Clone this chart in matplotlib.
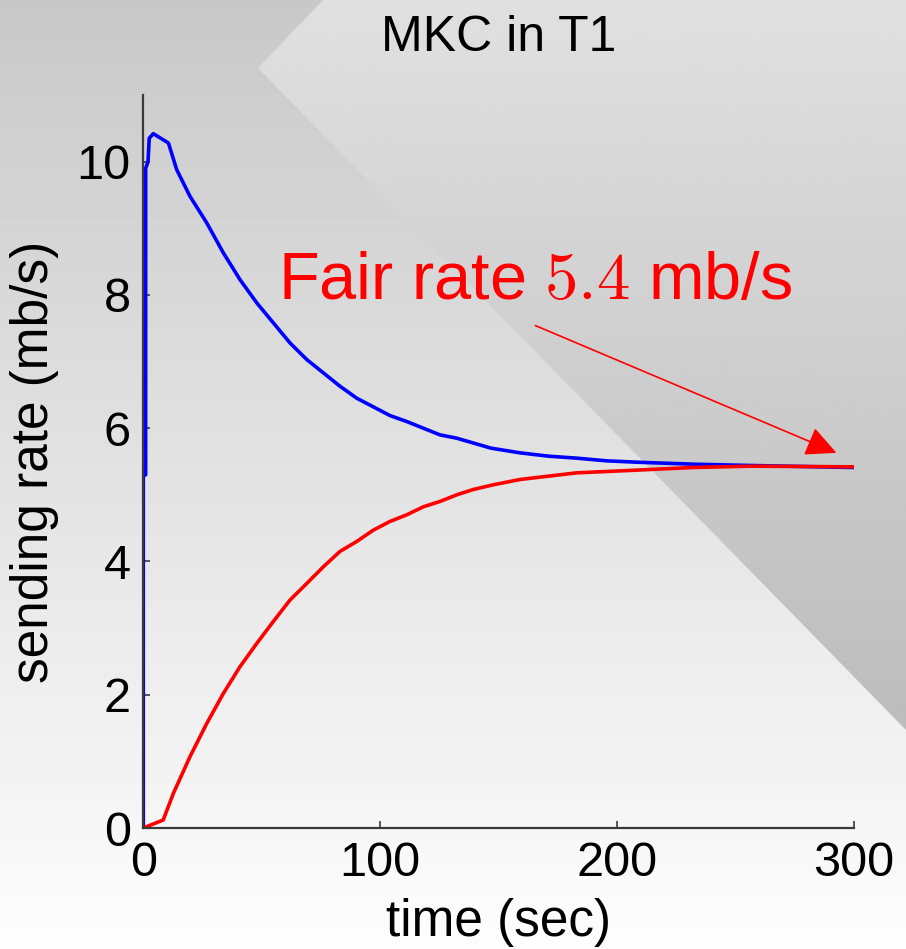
import numpy as np
import matplotlib.pyplot as plt
from matplotlib.patches import Polygon

plt.rcParams['font.family'] = ['Liberation Sans', 'DejaVu Sans']
plt.rcParams['mathtext.fontset'] = 'cm'

# sending rate of the two flows (mb/s) against time (sec)
t_blue = [0, 0, 1, 1, 2, 2.5, 4.2, 10.6, 14.1, 19.7, 26.8, 33.8, 40.8, 47.9, 54.9,
          61.9, 69.0, 76.0, 83.0, 90.1, 97.1, 104.1, 111.2, 118.2, 125.2, 132.3,
          146.8, 159, 171, 183, 195.6, 208, 232, 256.6, 300]
r_blue = [0, 5.3, 5.3, 9.9, 10.0, 10.35, 10.42, 10.28, 9.88, 9.48, 9.08, 8.63, 8.23,
          7.88, 7.58, 7.28, 7.03, 6.83, 6.63, 6.45, 6.32, 6.19, 6.10, 6.00, 5.90,
          5.85, 5.70, 5.63, 5.58, 5.55, 5.51, 5.49, 5.46, 5.44, 5.41]

t_red = [0, 8.4, 12.7, 19.7, 26.8, 33.8, 40.8, 47.9, 54.9, 61.9, 69.0, 76.0, 83.0,
         90.1, 97.1, 104.1, 111.2, 118.2, 125.2, 132.3, 139.3, 147.7, 159, 171,
         183, 208, 232, 256.6, 300]
r_red = [0, 0.12, 0.52, 1.07, 1.57, 2.02, 2.42, 2.77, 3.10, 3.42, 3.67, 3.92, 4.15,
         4.30, 4.47, 4.60, 4.70, 4.82, 4.90, 5.00, 5.08, 5.15, 5.23, 5.28, 5.33,
         5.37, 5.41, 5.43, 5.42]

fair_rate = 5.4
x_ticks = [0, 100, 200, 300]
y_ticks = [0, 2, 4, 6, 8, 10]

W, H = 906, 949
fig = plt.figure(figsize=(W / 100, H / 100), dpi=100)

# slide-style background: vertical grey fade plus a darker diagonal panel
bg = fig.add_axes([0, 0, 1, 1])
bg.axis('off')
fade = np.linspace(200, 253, 256)[:, None] / 255.0
bg.imshow(np.repeat(fade, 2, axis=1), cmap='gray', vmin=0, vmax=1,
          extent=[0, W, H, 0], aspect='auto')
panel = Polygon([(323, 0), (W, 0), (W, 730), (258, 68)], closed=True,
                facecolor='none', edgecolor='none')
bg.add_patch(panel)
shade = np.linspace(224, 188, 256)[:, None] / 255.0
img = bg.imshow(np.repeat(shade, 2, axis=1), cmap='gray', vmin=0, vmax=1,
                extent=[0, W, 730, 0], aspect='auto')
img.set_clip_path(panel)
bg.set_xlim(0, W)
bg.set_ylim(H, 0)

ax = fig.add_axes([143.3 / W, 1 - 828 / H, 710.7 / W, 733 / H])
ax.patch.set_alpha(0)

ax.plot(t_blue, r_blue, color='#0000ff', lw=2.6)
ax.plot(t_red, r_red, color='#ff0000', lw=2.6)

ax.set_xlim(0, 300)
ax.set_ylim(0, 11)
ax.set_xticks(x_ticks)
ax.set_yticks(y_ticks)
for side in ['top', 'right']:
    ax.spines[side].set_visible(False)
for side in ['left', 'bottom']:
    ax.spines[side].set_color('#3a3a3a')
    ax.spines[side].set_linewidth(1.6)
ax.tick_params(direction='in', length=5, width=1.2, color='#3a3a3a',
               labelsize=35, pad=9)

ax.set_xlabel('time (sec)', fontsize=37, labelpad=9)
ax.set_ylabel('sending rate (mb/s)', fontsize=37, labelpad=13)
ax.set_title('MKC in T1', fontsize=36, pad=32)

ax.text(56.9, 7.94, 'Fair rate $%.1f$ mb/s' % fair_rate, color='#ff0000',
        fontsize=48, ha='left', va='baseline')
ax.annotate('', xy=(292.6, 5.63), xytext=(165.5, 7.54),
            arrowprops=dict(arrowstyle='-|>,head_length=0.95,head_width=0.46',
                            mutation_scale=20, color='#ff0000', lw=1.2,
                            shrinkA=0, shrinkB=0))

fig.savefig('out.png', dpi=100)
